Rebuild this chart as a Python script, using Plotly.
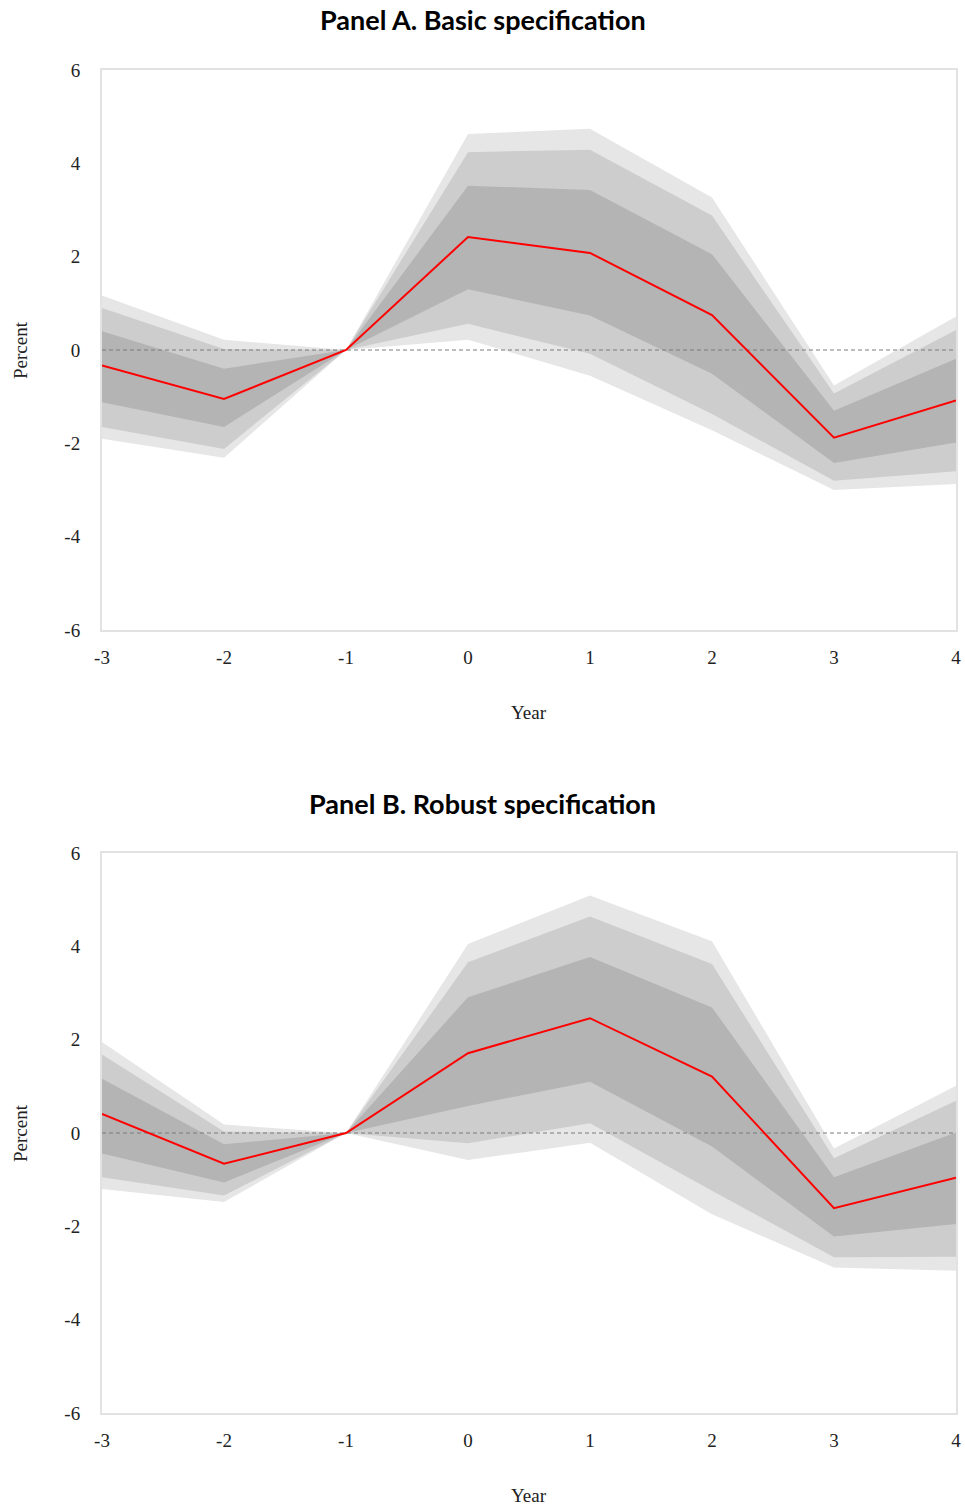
import plotly.graph_objects as go

# Event-time axis
years = [-3, -2, -1, 0, 1, 2, 3, 4]
x_ticks = [-3, -2, -1, 0, 1, 2, 3, 4]
x_tick_text = ["-3", "-2", "-1", "0", "1", "2", "3", "4"]
y_ticks = [-6, -4, -2, 0, 2, 4, 6]
y_tick_text = ["-6", "-4", "-2", "0", "2", "4", "6"]

# Panel A: basic specification (point estimate and confidence bands, percent)
a_est = [-0.33, -1.05, 0.0, 2.42, 2.08, 0.75, -1.88, -1.08]
a_outer_hi = [1.17, 0.22, 0.0, 4.63, 4.74, 3.27, -0.76, 0.72]
a_mid_hi = [0.90, 0.02, 0.0, 4.24, 4.29, 2.88, -0.93, 0.43]
a_inner_hi = [0.40, -0.40, 0.0, 3.52, 3.43, 2.05, -1.30, -0.19]
a_inner_lo = [-1.12, -1.65, 0.0, 1.30, 0.74, -0.51, -2.42, -1.98]
a_mid_lo = [-1.65, -2.12, 0.0, 0.56, -0.08, -1.37, -2.80, -2.60]
a_outer_lo = [-1.90, -2.31, 0.0, 0.22, -0.55, -1.72, -3.00, -2.87]

# Panel B: robust specification
b_est = [0.41, -0.66, 0.0, 1.71, 2.46, 1.21, -1.61, -0.96]
b_outer_hi = [1.95, 0.18, 0.0, 4.05, 5.09, 4.11, -0.33, 1.01]
b_mid_hi = [1.68, 0.03, 0.0, 3.66, 4.64, 3.62, -0.54, 0.69]
b_inner_hi = [1.16, -0.24, 0.0, 2.91, 3.77, 2.69, -0.95, 0.01]
b_inner_lo = [-0.44, -1.06, 0.0, 0.58, 1.10, -0.29, -2.22, -1.95]
b_mid_lo = [-0.95, -1.34, 0.0, -0.22, 0.21, -1.24, -2.66, -2.65]
b_outer_lo = [-1.20, -1.48, 0.0, -0.58, -0.21, -1.74, -2.88, -2.95]

titles = ["Panel A. Basic specification", "Panel B. Robust specification"]

BAND_COLORS = ["#e6e6e6", "#cdcdcd", "#b4b4b4"]
SERIF = "Liberation Serif"

W, H = 965, 1511
L, R, T, B = 102, 9, 70, 98
plot_h = H - T - B
# pixel extents of the two plot areas
panel_px = [(70, 630), (853, 1413)]


def ydomain(top_px, bottom_px):
    return [(H - B - bottom_px) / plot_h, (H - B - top_px) / plot_h]


def py(px):
    return (H - B - px) / plot_h


fig = go.Figure()

panels = [
    (a_est, [(a_outer_hi, a_outer_lo), (a_mid_hi, a_mid_lo), (a_inner_hi, a_inner_lo)]),
    (b_est, [(b_outer_hi, b_outer_lo), (b_mid_hi, b_mid_lo), (b_inner_hi, b_inner_lo)]),
]

for i, (est, bands) in enumerate(panels):
    xa = "x" if i == 0 else "x2"
    ya = "y" if i == 0 else "y2"
    for (hi, lo), col in zip(bands, BAND_COLORS):
        fig.add_trace(go.Scatter(
            x=years + years[::-1], y=hi + lo[::-1],
            fill="toself", fillcolor=col, mode="lines",
            line=dict(width=0, color=col), hoverinfo="skip",
            showlegend=False, xaxis=xa, yaxis=ya))
    # zero reference line
    fig.add_trace(go.Scatter(
        x=[years[0], years[-1]], y=[0, 0], mode="lines",
        line=dict(color="#7a7a7a", width=1, dash="4px,3px"),
        hoverinfo="skip", showlegend=False, xaxis=xa, yaxis=ya))
    fig.add_trace(go.Scatter(
        x=years, y=est, mode="lines",
        line=dict(color="#ff0000", width=2),
        showlegend=False, xaxis=xa, yaxis=ya))

axis_common = dict(
    showgrid=False, zeroline=False, showline=True, mirror=True,
    linecolor="#e2e2e2", linewidth=2, ticks="",
    tickfont=dict(family=SERIF, size=19, color="#222222"),
)

for i, (top_px, bot_px) in enumerate(panel_px):
    sfx = "" if i == 0 else "2"
    fig.layout["xaxis" + sfx] = dict(
        axis_common, domain=[0, 1], range=[-3, 4],
        tickvals=x_ticks, ticktext=x_tick_text, ticklabelstandoff=9,
        anchor="y" + sfx)
    fig.layout["yaxis" + sfx] = dict(
        axis_common, domain=ydomain(top_px, bot_px), range=[-6, 6],
        tickvals=y_ticks, ticktext=y_tick_text, ticklabelstandoff=16,
        anchor="x" + sfx)

annotations = []
title_px = [19, 803]
for i, (top_px, bot_px) in enumerate(panel_px):
    annotations.append(dict(
        text="<b>" + titles[i] + "</b>", xref="paper", yref="paper",
        x=(482.5 - L) / (W - L - R), y=py(title_px[i]),
        xanchor="center", yanchor="middle", showarrow=False,
        font=dict(family="Lato", size=27, color="#000000")))
    annotations.append(dict(
        text="Year", xref="paper", yref="paper",
        x=0.5, y=py(bot_px + 82),
        xanchor="center", yanchor="middle", showarrow=False,
        font=dict(family=SERIF, size=19, color="#222222")))
    annotations.append(dict(
        text="Percent", xref="paper", yref="paper",
        x=(20 - L) / (W - L - R), y=py((top_px + bot_px) / 2),
        xanchor="center", yanchor="middle", textangle=-90, showarrow=False,
        font=dict(family=SERIF, size=19, color="#222222")))

fig.update_layout(
    width=W, height=H,
    margin=dict(l=L, r=R, t=T, b=B, autoexpand=False),
    paper_bgcolor="white", plot_bgcolor="white",
    annotations=annotations,
    showlegend=False,
)

fig.write_html("out.html")
